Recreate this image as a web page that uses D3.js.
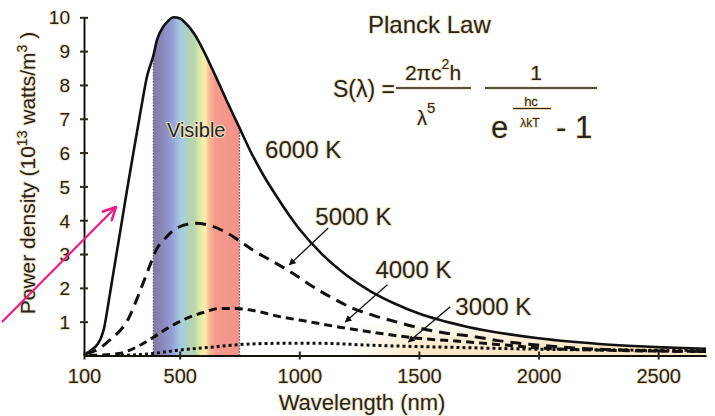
<!DOCTYPE html>
<meta charset="utf-8">
<head>
  <title>Planck Law</title>
</head>
<style>
body { margin: 0; background: #fff; }
svg text { font-family: "Liberation Sans", Arial, Helvetica, sans-serif; fill: #262420; }
.halo { paint-order: stroke; stroke: #f3e5c4; stroke-width: 2px; stroke-linejoin: round; }
</style>
<body>
<script src="https://cdn.jsdelivr.net/npm/d3@7"></script>
<script>
// curves: [wavelength nm, power density 10^13 W/m^3]
var curve6000 = [[100,0],[125,0.13],[154,0.31],[171,0.52],[184,0.81],[200,1.46],[221,2.37],[251,3.65],
  [280,4.9],[310,6.14],[339,7.32],[364,8.27],[390,8.87],[405,9.33],[431,9.72],[450,9.88],[475,10],
  [500,9.97],[520,9.86],[560,9.52],[600,9.01],[650,8.26],[700,7.48],[750,6.73],[800,5.98],[850,5.33],
  [900,4.76],[1000,3.74],[1100,2.96],[1200,2.36],[1300,1.89],[1400,1.53],[1500,1.24],[1700,0.85],
  [2000,0.51],[2300,0.32],[2700,0.2]];
var curve5000 = [[108,0.06],[150,0.15],[205,0.44],[288,1.12],[330,1.83],[372,2.6],[401,3.11],[443,3.49],
  [485,3.76],[568,3.91],[623,3.85],[694,3.64],[748,3.4],[807,3.11],[882,2.81],[966,2.46],[1049,2.07],
  [1133,1.72],[1216,1.42],[1312,1.18],[1413,0.98],[1509,0.8],[1622,0.65],[1731,0.56],[1831,0.44],
  [2011,0.3],[2149,0.22],[2345,0.16],[2700,0.12]];
var curve4000 = [[122,0],[246,0.06],[317,0.24],[388,0.53],[455,0.83],[526,1.09],[598,1.27],[664,1.39],
  [736,1.39],[807,1.33],[924,1.14],[1007,1.04],[1175,0.83],[1342,0.65],[1509,0.5],[1634,0.44],
  [1873,0.3],[2011,0.22],[2262,0.16],[2700,0.12]];
var curve3000 = [[255,0],[388,0.06],[485,0.15],[623,0.24],[765,0.33],[924,0.36],[1091,0.36],[1312,0.3],
  [1647,0.24],[2053,0.18],[2700,0.15]];

var xTicks = [100, 500, 1000, 1500, 2000, 2500];
var yTicks = [1, 2, 3, 4, 5, 6, 7, 8, 9, 10];
var visibleBand = [390, 750];

// labels and arrows, in data units
var tempLabels = [
  {text: "6000 K", nm: 857, v: 5.84},
  {text: "5000 K", nm: 1067, v: 3.86},
  {text: "4000 K", nm: 1318, v: 2.29},
  {text: "3000 K", nm: 1652, v: 1.2}
];
var tempArrows = [
  [[1121, 3.77], [958, 2.68]],
  [[1368, 2.09], [1192, 0.99]],
  [[1631, 1.44], [1456, 0.40]]
];
var pinkArrow = [[-243, 0.99], [234, 4.39]];

var width = 715, height = 416;
var svg = d3.select("body").append("svg")
  .attr("width", width)
  .attr("height", height);

var x = d3.scaleLinear().domain([100, 2700]).range([84, 706]);
var y = d3.scaleLinear().domain([0, 10]).range([355.5, 17.3]);

var line = d3.line()
  .x(function(d) { return x(d[0]); })
  .y(function(d) { return y(d[1]); })
  .curve(d3.curveMonotoneX);
var area = d3.area()
  .x(function(d) { return x(d[0]); })
  .y0(y(0))
  .y1(function(d) { return y(d[1]); })
  .curve(d3.curveMonotoneX);

var defs = svg.append("defs");

// spectrum gradient for the visible band
var spec = defs.append("linearGradient").attr("id", "spec")
  .attr("gradientUnits", "userSpaceOnUse")
  .attr("x1", x(visibleBand[0])).attr("x2", x(visibleBand[1]))
  .attr("y1", 0).attr("y2", 0);
[[0, "#827aa6"], [0.1, "#8a86b8"], [0.22, "#94a0d6"], [0.32, "#a6cde2"], [0.4, "#b0d2c0"],
 [0.48, "#b8d8a8"], [0.55, "#e6eaa8"], [0.6, "#f8f2aa"], [0.65, "#f8b898"], [0.72, "#f59a8c"],
 [1, "#f4928a"]]
  .forEach(function(s) {
    spec.append("stop").attr("offset", s[0]).attr("stop-color", s[1]);
  });

// beige tint near the axis under the long wave tail
var tailV = defs.append("linearGradient").attr("id", "tailV")
  .attr("gradientUnits", "userSpaceOnUse")
  .attr("x1", 0).attr("x2", 0)
  .attr("y1", y(1.0)).attr("y2", y(0.25));
tailV.append("stop").attr("offset", 0).attr("stop-color", "#fbe7c6").attr("stop-opacity", 0);
tailV.append("stop").attr("offset", 1).attr("stop-color", "#fbe7c6").attr("stop-opacity", 1);
var tailH = defs.append("linearGradient").attr("id", "tailH")
  .attr("gradientUnits", "userSpaceOnUse")
  .attr("x1", x(1200)).attr("x2", x(1500))
  .attr("y1", 0).attr("y2", 0);
tailH.append("stop").attr("offset", 0).attr("stop-color", "#fff").attr("stop-opacity", 0);
tailH.append("stop").attr("offset", 1).attr("stop-color", "#fff").attr("stop-opacity", 1);
defs.append("mask").attr("id", "tailMask")
  .append("rect").attr("x", 0).attr("y", 0).attr("width", width).attr("height", height)
  .attr("fill", "url(#tailH)");

defs.append("clipPath").attr("id", "under6000")
  .append("path").attr("d", area(curve6000));

var g = svg.append("g");

g.append("g").attr("clip-path", "url(#under6000)")
  .append("rect")
  .attr("mask", "url(#tailMask)")
  .attr("x", x(1200)).attr("y", 0)
  .attr("width", x(2700) - x(1200)).attr("height", y(0))
  .attr("fill", "url(#tailV)");

g.append("rect")
  .attr("clip-path", "url(#under6000)")
  .attr("x", x(visibleBand[0])).attr("y", 0)
  .attr("width", x(visibleBand[1]) - x(visibleBand[0])).attr("height", y(0))
  .attr("fill", "url(#spec)");

// dotted band edges up to the curve
var v6000 = d3.scaleLinear().domain(curve6000.map(function(d) { return d[0]; }))
  .range(curve6000.map(function(d) { return d[1]; }));
visibleBand.forEach(function(nm) {
  g.append("line")
    .attr("x1", x(nm)).attr("x2", x(nm))
    .attr("y1", y(0)).attr("y2", y(v6000(nm)) + 2)
    .attr("stroke", "#4a4650").attr("stroke-width", 1.3)
    .attr("stroke-dasharray", "1.3,1.7");
});

g.append("text").attr("class", "halo")
  .attr("x", x(569)).attr("y", y(6.46))
  .attr("text-anchor", "middle")
  .style("font-size", "20px")
  .text("Visible");

// curves
var styles = [
  {data: curve3000, dash: "3,3", w: 3},
  {data: curve4000, dash: "8,5", w: 3},
  {data: curve5000, dash: "11,7", w: 3},
  {data: curve6000, dash: null, w: 2.6}
];
styles.forEach(function(s) {
  g.append("path")
    .attr("d", line(s.data))
    .attr("fill", "none")
    .attr("stroke", "#111")
    .attr("stroke-width", s.w)
    .attr("stroke-dasharray", s.dash);
});

// axes
var xAxis = g.append("g")
  .attr("transform", "translate(0," + y(0) + ")")
  .call(d3.axisBottom(x).tickValues(xTicks).tickSizeOuter(0).tickFormat(d3.format("d")));
var yAxis = g.append("g")
  .attr("transform", "translate(" + x(100) + ",0)")
  .call(d3.axisLeft(y).tickValues(yTicks).tickSizeOuter(0).tickFormat(d3.format("d")));

[xAxis, yAxis].forEach(function(a) {
  a.select(".domain").clone(true).lower()
    .attr("stroke", "#e6d5ad").attr("stroke-width", 4.5);
  a.select(".domain").attr("stroke", "#2d2619").attr("stroke-width", 2);
  a.selectAll(".tick line").attr("stroke", "#2d2619").attr("stroke-width", 2);
  a.selectAll(".tick text").attr("class", "halo").style("fill", "#262420");
});
xAxis.selectAll(".tick line").attr("y1", -4).attr("y2", 4);
xAxis.selectAll(".tick text").attr("y", 27.5).attr("dy", null).style("font-size", "20px");
yAxis.selectAll(".tick line").attr("x1", -4).attr("x2", 4);
yAxis.selectAll(".tick text").attr("x", -14).attr("dy", "0.36em").style("font-size", "19px");
yAxis.select(".tick:last-of-type text").attr("dy", "0.32em");

// axis titles
svg.append("text").attr("class", "halo")
  .attr("x", 362).attr("y", 410)
  .attr("text-anchor", "middle")
  .style("font-size", "22px")
  .text("Wavelength (nm)");

var yt = svg.append("text").attr("class", "halo")
  .attr("transform", "translate(35,173) rotate(-90)")
  .attr("text-anchor", "middle")
  .style("font-size", "21px");
yt.append("tspan").text("Power density (10");
yt.append("tspan").attr("dy", -8).style("font-size", "14px").text("13");
yt.append("tspan").attr("dy", 8).text(" watts/m");
yt.append("tspan").attr("dy", -8).style("font-size", "14px").text("3");
yt.append("tspan").attr("dy", 8).text(" )");

// temperature labels and arrows
defs.append("marker").attr("id", "head")
  .attr("viewBox", "0 0 10 10").attr("refX", 9).attr("refY", 5)
  .attr("markerWidth", 7).attr("markerHeight", 7)
  .attr("markerUnits", "userSpaceOnUse")
  .attr("orient", "auto")
  .append("path").attr("d", "M0,0L10,5L0,10Z").attr("fill", "#111");

tempArrows.forEach(function(a) {
  g.append("line")
    .attr("x1", x(a[0][0])).attr("y1", y(a[0][1]))
    .attr("x2", x(a[1][0])).attr("y2", y(a[1][1]))
    .attr("stroke", "#111").attr("stroke-width", 1.3)
    .attr("marker-end", "url(#head)");
});

g.selectAll(".temp").data(tempLabels).enter().append("text")
  .attr("class", "temp halo")
  .attr("x", function(d) { return x(d.nm); })
  .attr("y", function(d) { return y(d.v); })
  .style("font-size", "24px")
  .text(function(d) { return d.text; });

// pink pointer
defs.append("marker").attr("id", "open")
  .attr("viewBox", "0 0 12 12").attr("refX", 11).attr("refY", 6)
  .attr("markerWidth", 15).attr("markerHeight", 15)
  .attr("markerUnits", "userSpaceOnUse")
  .attr("orient", "auto")
  .append("path").attr("d", "M1,1L11,6L1,11")
  .attr("fill", "none").attr("stroke", "#ec1c80").attr("stroke-width", 2)
  .attr("stroke-linecap", "round").attr("stroke-linejoin", "round");
svg.append("line")
  .attr("x1", x(pinkArrow[0][0])).attr("y1", y(pinkArrow[0][1]))
  .attr("x2", x(pinkArrow[1][0])).attr("y2", y(pinkArrow[1][1]))
  .attr("stroke", "#ec1c80").attr("stroke-width", 2.2)
  .attr("marker-end", "url(#open)");

// equation
var eq = svg.append("g");
eq.append("text").attr("class", "halo").attr("x", 368).attr("y", 33)
  .style("font-size", "24px").text("Planck Law");
eq.append("text").attr("class", "halo").attr("x", 333).attr("y", 97)
  .style("font-size", "23px").text("S(λ) =");
var num = eq.append("text").attr("class", "halo").attr("x", 433).attr("y", 80)
  .attr("text-anchor", "middle").style("font-size", "21px");
num.append("tspan").text("2πc");
num.append("tspan").attr("dy", -11).style("font-size", "14px").text("2");
num.append("tspan").attr("dy", 11).text("h");
var den = eq.append("text").attr("class", "halo").attr("x", 417).attr("y", 125)
  .style("font-size", "20px");
den.append("tspan").text("λ");
den.append("tspan").attr("dy", -12).style("font-size", "15px").text("5");
eq.append("text").attr("class", "halo").attr("x", 536).attr("y", 80)
  .attr("text-anchor", "middle").style("font-size", "21px").text("1");
eq.append("text").attr("class", "halo").attr("x", 491).attr("y", 138)
  .style("font-size", "31px").text("e");
eq.append("text").attr("class", "halo").attr("x", 531).attr("y", 106)
  .attr("text-anchor", "middle").style("font-size", "13px").text("hc");
eq.append("text").attr("class", "halo").attr("x", 530).attr("y", 127)
  .attr("text-anchor", "middle").style("font-size", "12px").text("λkT");
eq.append("text").attr("class", "halo").attr("x", 556).attr("y", 138)
  .style("font-size", "31px").text("- 1");
[[396, 471, 88, 1.6], [485, 597, 88, 1.6], [513, 551, 108.5, 1.2]].forEach(function(l) {
  eq.append("line").attr("x1", l[0]).attr("x2", l[1]).attr("y1", l[2]).attr("y2", l[2])
    .attr("stroke", "#e8d6ad").attr("stroke-width", l[3] + 1.6);
  eq.append("line").attr("x1", l[0]).attr("x2", l[1]).attr("y1", l[2]).attr("y2", l[2])
    .attr("stroke", "#262420").attr("stroke-width", l[3]);
});
</script>
</body>
